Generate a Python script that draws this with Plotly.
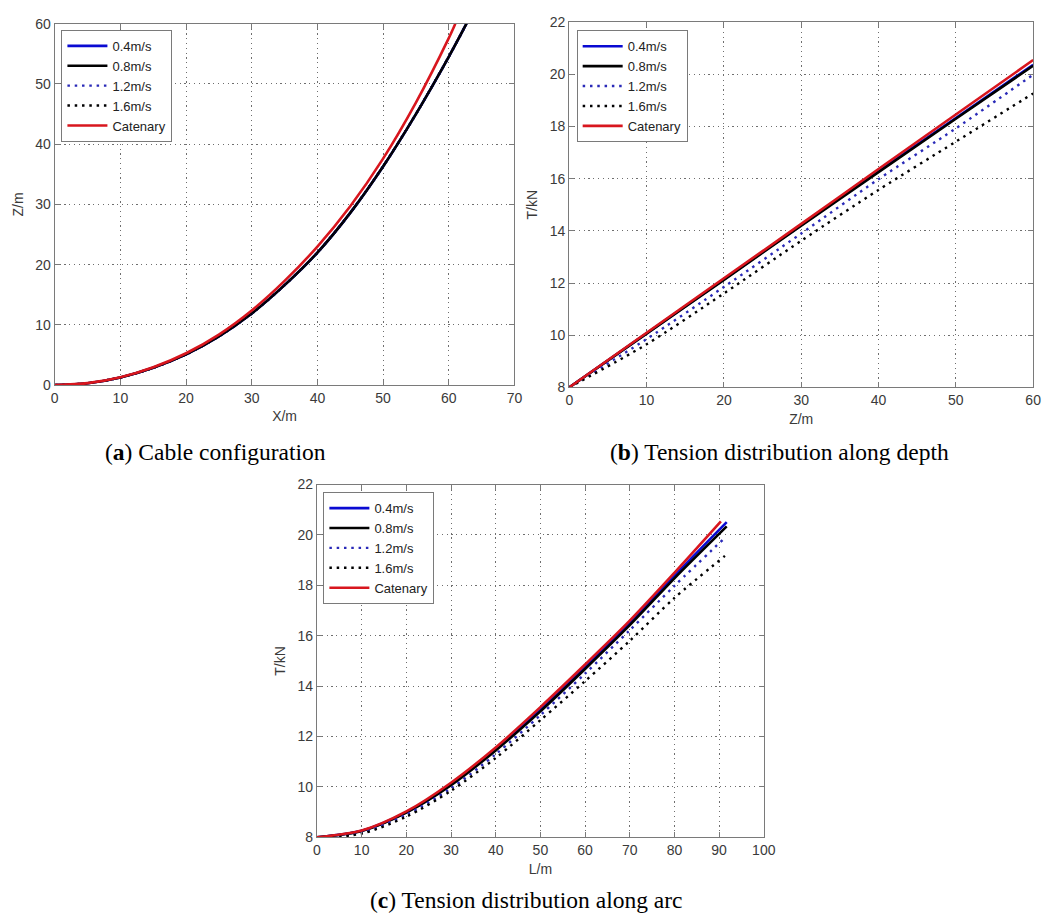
import plotly.graph_objects as go

W, H = 1054, 923

series_names = ["0.4m/s", "0.8m/s", "1.2m/s", "1.6m/s", "Catenary"]

# (a) Cable configuration: Z vs X
a_x_cat = [0, 5, 10, 15, 20, 25, 30, 35, 40, 45, 50, 55, 60, 61.0]
a_z_cat = [0, 0.33, 1.31, 2.97, 5.3, 8.4, 12.4, 17.3, 23.0, 29.7, 37.6, 46.9, 57.6, 60]
a_x_cur = [0, 5, 10, 15, 20, 25, 30, 35, 40, 45, 50, 55, 60, 62.7]
a_z_04 = [0, 0.32, 1.27, 2.88, 5.1, 8.1, 11.9, 16.6, 22.0, 28.6, 36.3, 45.0, 54.5, 60]
a_z_08 = [0, 0.32, 1.27, 2.88, 5.1, 8.1, 11.9, 16.6, 22.0, 28.6, 36.3, 45.0, 54.5, 60]
a_z_12 = [0, 0.32, 1.27, 2.88, 5.1, 8.1, 11.9, 16.6, 22.0, 28.6, 36.3, 45.0, 54.5, 60]
a_z_16 = [0, 0.32, 1.27, 2.88, 5.1, 8.1, 11.9, 16.6, 22.0, 28.6, 36.3, 45.0, 54.5, 60]

# (b) Tension along depth: T vs Z
b_z = [0, 10, 20, 30, 40, 50, 60]
b_t_04 = [8.0, 10.07, 12.14, 14.22, 16.28, 18.33, 20.37]
b_t_08 = [8.0, 10.06, 12.12, 14.2, 16.25, 18.3, 20.33]
b_t_12 = [8.0, 9.85, 11.85, 13.9, 15.98, 17.93, 19.99]
b_t_16 = [8.0, 9.65, 11.6, 13.62, 15.57, 17.42, 19.27]
b_t_cat = [8.0, 10.09, 12.18, 14.27, 16.37, 18.46, 20.55]

# (c) Tension along arc: T vs L
c_l_cat = [0, 10, 20, 30, 40, 50, 60, 70, 80, 90.4]
c_t_cat = [8.0, 8.27, 9.03, 10.17, 11.57, 13.17, 14.86, 16.6, 18.5, 20.54]
c_l_04 = [0, 10, 20, 30, 40, 50, 60, 70, 80, 91.7]
c_t_04 = [8.0, 8.26, 9.0, 10.1, 11.5, 13.06, 14.75, 16.5, 18.38, 20.51]
c_l_08 = [0, 10, 20, 30, 40, 50, 60, 70, 80, 91.7]
c_t_08 = [8.0, 8.25, 8.98, 10.07, 11.45, 13.0, 14.68, 16.42, 18.28, 20.34]
c_l_12 = [0, 10, 20, 30, 40, 50, 60, 70, 80, 91.3]
c_t_12 = [8.0, 8.2, 8.9, 9.95, 11.3, 12.85, 14.5, 16.22, 17.98, 19.89]
c_l_16 = [0, 10, 20, 30, 40, 50, 60, 70, 80, 91.3]
c_t_16 = [8.0, 8.15, 8.82, 9.85, 11.15, 12.65, 14.2, 15.8, 17.5, 19.17]

BLUE = "#0a0ad2"
BLACK = "#000000"
RED = "#d8161e"
DOT = "2.5px,4.8px"
styles = [
    dict(color=BLUE, width=2.6, dash="solid"),
    dict(color=BLACK, width=2.6, dash="solid"),
    dict(color="#2a2ab8", width=2.4, dash=DOT),
    dict(color=BLACK, width=2.4, dash=DOT),
    dict(color=RED, width=2.6, dash="solid"),
]

fig = go.Figure()

def add_panel(xs, ys, xaxis, yaxis, legend):
    for name, x, y, st in zip(series_names, xs, ys, styles):
        fig.add_trace(go.Scatter(
            x=x, y=y, mode="lines", name=name,
            line=dict(shape="spline", smoothing=0.8, **st),
            xaxis=xaxis, yaxis=yaxis, legend=legend, showlegend=True))

add_panel([a_x_cur, a_x_cur, a_x_cur, a_x_cur, a_x_cat],
          [a_z_04, a_z_08, a_z_12, a_z_16, a_z_cat], "x", "y", "legend")
add_panel([b_z] * 5, [b_t_04, b_t_08, b_t_12, b_t_16, b_t_cat], "x2", "y2", "legend2")
add_panel([c_l_04, c_l_08, c_l_12, c_l_16, c_l_cat],
          [c_t_04, c_t_08, c_t_12, c_t_16, c_t_cat], "x3", "y3", "legend3")

def dom_x(p0, p1):
    return [p0 / W, p1 / W]

def dom_y(top, bot):
    return [1 - bot / H, 1 - top / H]

tickfont = dict(family="Liberation Sans, Arial", size=14, color="#3a3a3a")
titlefont = dict(family="Liberation Sans, Arial", size=14, color="#3a3a3a")

def axis(domain, rng, dtick, title, anchor, standoff):
    return dict(domain=domain, range=rng, dtick=dtick, tick0=0, anchor=anchor,
                showline=True, linecolor="#7a7a7a", linewidth=1.2, mirror="ticks",
                ticks="inside", ticklen=5, tickcolor="#7a7a7a",
                showgrid=True, gridcolor="#6e6e6e", griddash="1.2px,3.6px", gridwidth=1,
                zeroline=False, tickfont=tickfont,
                title=dict(text=title, font=titlefont, standoff=standoff))

legend_style = dict(bgcolor="white", bordercolor="#7a7a7a", borderwidth=1,
                    font=dict(family="Liberation Sans, Arial", size=13, color="#222"),
                    xanchor="left", yanchor="top", tracegroupgap=0,
                    itemwidth=40)

fig.update_layout(
    width=W, height=H, margin=dict(l=0, r=0, t=0, b=0),
    paper_bgcolor="white", plot_bgcolor="white",
    xaxis=axis(dom_x(51.5, 518.3), [0, 70], 10, "X/m", "y", 6),
    yaxis=axis(dom_y(16, 383.8), [0, 60], 10, "Z/m", "x", 8),
    xaxis2=axis(dom_x(574, 1045), [0, 60], 10, "Z/m", "y2", 6),
    yaxis2=axis(dom_y(14.5, 386), [8, 22], 2, "T/kN", "x2", 8),
    xaxis3=axis(dom_x(317.8, 771.5), [0, 100], 10, "L/m", "y3", 6),
    yaxis3=axis(dom_y(485, 844), [8, 22], 2, "T/kN", "x3", 8),
    legend=dict(x=58.3 / W, y=1 - 22.3 / H, **legend_style),
    legend2=dict(x=581.5 / W, y=1 - 22.7 / H, **legend_style),
    legend3=dict(x=324.3 / W, y=1 - 492.7 / H, **legend_style),
)

capfont = dict(family="Liberation Serif, Times New Roman", size=23.5, color="black")
captions = [
    ("(<b>a</b>) Cable configuration", 214.7, 452),
    ("(<b>b</b>) Tension distribution along depth", 787, 452),
    ("(<b>c</b>) Tension distribution along arc", 531, 908),
]
for text, cx, cy in captions:
    fig.add_annotation(text=text, x=cx / W, y=1 - cy / H, xref="paper", yref="paper",
                       showarrow=False, font=capfont, xanchor="center", yanchor="middle")

fig.write_html("out.html")
